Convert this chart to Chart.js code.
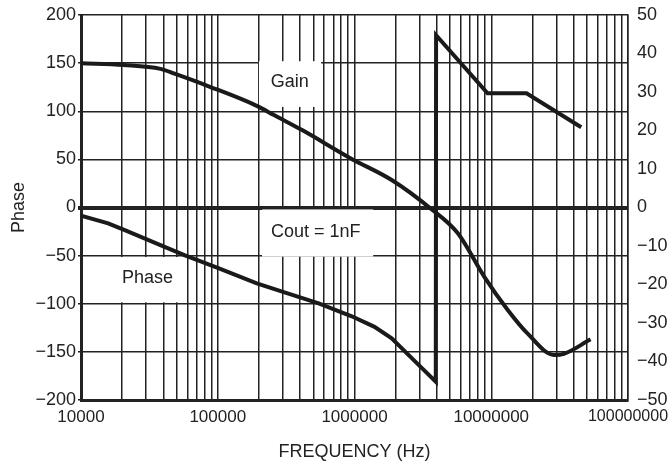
<!DOCTYPE html>
<html>
<head>
<meta charset="utf-8">
<script src="https://cdn.jsdelivr.net/npm/chart.js@4"></script>
<style>
  body { margin: 0; background: #fff; }
  #wrap { width: 670px; height: 466px; }
</style>
</head>
<body>
<div id="wrap"><canvas id="bode"></canvas></div>
<script>
// frequency decades shown on the x axis
const freqLabels = [1e4, 1e5, 1e6, 1e7, 1e8];

// phase curve (degrees, left axis) - wraps from -180 to +180 near 4 MHz
const phaseFreq = [1e4, 1.58e4, 2.09e4, 3.81e4, 5.7e4, 1.01e5, 1.93e5, 2.96e5, 5.47e5, 9.55e5, 1.4e6, 1.87e6, 2.69e6, 3.93e6, 3.95e6, 9.4e6, 1.81e7, 4.55e7];
const phaseDeg  = [-8.5, -16.4, -23.4, -39, -49.4, -63, -78.8, -87.5, -99.6, -113, -124, -136, -158, -181, 179, 118.6, 118.6, 83.3];

// gain curve (dB, right axis)
const gainFreq = [1e4, 2.05e4, 3.81e4, 4.83e4, 8.4e4, 1.93e5, 2.58e5, 4.14e5, 9.4e5, 1.87e6, 3.6e6, 5.7e6, 8.9e6, 1.32e7, 1.84e7, 2.88e7, 3.4e7, 5.32e7];
const gainDb   = [37.45, 37, 36, 34.75, 31.6, 26.4, 24, 20.1, 12.75, 7.15, -0.25, -6.7, -18, -26.6, -32.7, -38.3, -38, -34.25];

// axis ticks
const phaseTicks = [-200, -150, -100, -50, 0, 50, 100, 150, 200];
const gainTicks  = [-50, -40, -30, -20, -10, 0, 10, 20, 30, 40, 50];

const FONT = "'Liberation Sans', Arial, sans-serif";
const INK = '#222';

// text boxes on the plot: box = [xFrom, xTo, yTop, yBottom], at = text centre (phase-axis units)
const notes = [
  { text: 'Gain',       box: [2e5, 5.7e5, 152, 104.5], at: [3.36e5, 130] },
  { text: 'Cout = 1nF', box: [2.11e5, 1.37e6, -2, -51], at: [5.2e5, -25.5] },
  { text: 'Phase',      box: [1.06e4, 5.8e4, -51.5, -98.5], at: [3.07e4, -73] }
];

// minor grid positions 1..9 per decade
const xGrid = [];
freqLabels.slice(0, -1).forEach(d => {
  for (let m = 1; m <= 9; m++) xGrid.push(d * m);
});
xGrid.push(freqLabels[freqLabels.length - 1]);

const labelBoxes = {
  id: 'labelBoxes',
  beforeDatasetsDraw(chart) {
    const { ctx, scales: { x, y } } = chart;
    ctx.save();
    notes.forEach(n => {
      const l = x.getPixelForValue(n.box[0]), r = x.getPixelForValue(n.box[1]);
      const t = y.getPixelForValue(n.box[2]), b = y.getPixelForValue(n.box[3]);
      ctx.fillStyle = '#fff';
      ctx.fillRect(l, t, r - l, b - t);
      ctx.fillStyle = INK;
      ctx.font = '18px ' + FONT;
      ctx.textAlign = 'center';
      ctx.textBaseline = 'middle';
      ctx.fillText(n.text, x.getPixelForValue(n.at[0]), y.getPixelForValue(n.at[1]));
    });
    ctx.restore();
  }
};

Chart.defaults.font.family = FONT;
Chart.defaults.font.size = 18;
Chart.defaults.color = INK;

const minus = v => String(v).replace('-', '\u2212');

new Chart(document.getElementById('bode'), {
  type: 'line',
  data: {
    datasets: [
      {
        label: 'Phase',
        data: phaseFreq.map((f, i) => ({ x: f, y: phaseDeg[i] })),
        yAxisID: 'y',
        borderColor: '#1a1a1a',
        borderWidth: 4,
        pointRadius: 0,
        tension: 0
      },
      {
        label: 'Gain',
        data: gainFreq.map((f, i) => ({ x: f, y: gainDb[i] })),
        yAxisID: 'y2',
        borderColor: '#1a1a1a',
        borderWidth: 4,
        pointRadius: 0,
        cubicInterpolationMode: 'monotone'
      }
    ]
  },
  options: {
    responsive: true,
    maintainAspectRatio: false,
    animation: false,
    layout: { padding: { top: 15, left: 0, right: 0, bottom: 0 } },
    plugins: { legend: { display: false }, tooltip: { enabled: false } },
    scales: {
      x: {
        type: 'logarithmic',
        min: 1e4,
        max: 1e8,
        afterBuildTicks: s => { s.ticks = xGrid.map(v => ({ value: v })); },
        afterFit: s => { s.height = 66; s.paddingLeft = 0; s.paddingRight = 0; },
        ticks: {
          autoSkip: false,
          maxRotation: 0,
          padding: 7,
          font: c => ({ size: (c.tick && c.tick.value === 1e8) ? 16 : 17 }),
          callback: v => freqLabels.includes(v) ? String(v) : ''
        },
        grid: { color: INK, lineWidth: 1.5, drawTicks: false },
        border: { color: INK, width: 3 },
        title: { display: true, text: 'FREQUENCY (Hz)', padding: { top: 0, bottom: 3 } }
      },
      y: {
        position: 'left',
        min: -200,
        max: 200,
        afterBuildTicks: s => { s.ticks = phaseTicks.map(v => ({ value: v })); },
        afterFit: s => { s.width = 81; s.paddingTop = 0; s.paddingBottom = 0; },
        ticks: { padding: 2, callback: v => minus(v) },
        grid: {
          color: INK,
          lineWidth: c => (c.tick && c.tick.value === 0) ? 4 : 1.5,
          tickLength: 3
        },
        border: { color: INK, width: 3 },
        title: { display: true, text: 'Phase', padding: { top: 8, bottom: 0 } }
      },
      y2: {
        position: 'right',
        min: -50,
        max: 50,
        afterBuildTicks: s => { s.ticks = gainTicks.map(v => ({ value: v })); },
        afterFit: s => { s.width = 42; s.paddingTop = 0; s.paddingBottom = 0; },
        ticks: { padding: 9, callback: v => minus(v) },
        grid: { drawOnChartArea: false, drawTicks: false },
        border: { color: INK, width: 1.5 }
      }
    }
  },
  plugins: [labelBoxes]
});
</script>
</body>
</html>
